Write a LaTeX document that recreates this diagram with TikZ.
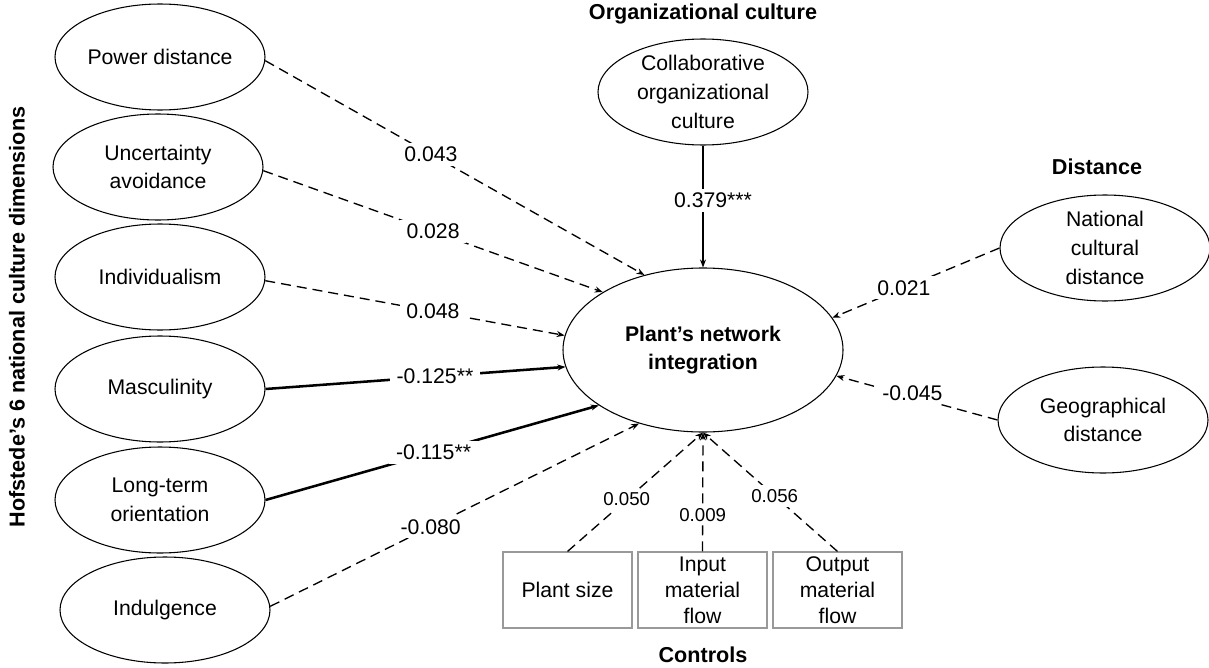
\documentclass[tikz,border=0pt]{standalone}
\usepackage{fontspec}
\setmainfont{Liberation Sans}
\usetikzlibrary{arrows.meta,shapes.geometric}
\begin{document}
\begin{tikzpicture}[x=0.75pt,y=-0.75pt,
  every node/.style={font=\fontsize{15.9}{21.5}\selectfont, align=center},
  small/.style={draw, line width=0.8pt, ellipse, inner sep=0pt, minimum width=157.5pt, minimum height=79.5pt},
  big/.style={draw, line width=0.8pt, ellipse, inner sep=0pt, minimum width=210pt, minimum height=123pt, font=\bfseries\fontsize{15.9}{21.5}\selectfont},
  ctrl/.style={draw=black!40, line width=0.8pt, rectangle, inner sep=0pt, minimum width=96.75pt, minimum height=57pt, font=\fontsize{15.9}{19.5}\selectfont},
  ttl/.style={font=\bfseries\fontsize{16.2}{19}\selectfont},
  dsh/.style={line width=1pt, dash pattern=on 7.5pt off 4.5pt, -{Stealth[length=6pt,width=4.5pt]}},
  sld/.style={line width=1.9pt, -{Stealth[length=6pt,width=4.5pt]}},
  lbl/.style={fill=white, inner xsep=5pt, inner ysep=3pt},
  slbl/.style={fill=white, inner xsep=4pt, inner ysep=3pt, font=\fontsize{14}{16}\selectfont}
]
\useasboundingbox (0,0) rectangle (1209,667);

% left ellipses
\node[small] (pd) at (160,57) {Power distance};
\node[small] (ua) at (158,167) {Uncertainty\\avoidance};
\node[small] (ind) at (160,277) {Individualism};
\node[small] (mas) at (160,389) {Masculinity};
\node[small] (lto) at (160,500) {Long-term\\orientation};
\node[small] (indu) at (165,610) {Indulgence};

% centre
\node[big] (pni) at (703,350) {Plant's network\\integration};
\node[small] (coc) at (703,92) {Collaborative\\organizational\\culture};

% right
\node[small] (ncd) at (1105,248) {National\\cultural\\distance};
\node[small] (gd) at (1103,420) {Geographical\\distance};

% controls
\node[ctrl] (ps) at (567.5,590) {Plant size};
\node[ctrl] (imf) at (702.5,590) {Input\\material\\flow};
\node[ctrl] (omf) at (837.5,590) {Output\\material\\flow};

% titles
\node[ttl] (t1) at (703,14) {Organizational culture};
\node[ttl] (t2) at (1097,167) {Distance};
\node[ttl] (t3) at (703,655) {Controls};
\node[ttl, rotate=90] (t4) at (17,317) {Hofstede’s 6 national culture dimensions};

% connectors
\draw[dsh] (pd.-2) -- (pni.128) node[lbl, pos=0.437] (l1) {0.043};
\draw[dsh] (ua.-2) -- (pni.150) node[lbl, pos=0.5] (l2) {0.028};
\draw[dsh] (ind.-2) -- (pni.174.7) node[lbl, pos=0.56] (l3) {0.048};
\draw[sld] (mas.0) -- (pni.187.8) node[lbl, pos=0.565] (l4) {-0.125**};
\draw[sld] (lto.0) -- (pni.208.8) node[lbl, pos=0.504] (l5) {-0.115**};
\draw[dsh] (indu.2) -- (pni.229.3) node[lbl, pos=0.435] (l6) {-0.080};
\draw[sld] (coc.south) -- (pni.north) node[lbl, pos=0.447, xshift=7.5pt] (l7) {0.379***};
\draw[dsh] (ncd.west) -- (pni.14) node[lbl, pos=0.572] (l8) {0.021};
\draw[dsh] (gd.west) -- (pni.-11.6) node[lbl, pos=0.528, yshift=3pt] (l9) {-0.045};
\draw[dsh] (ps.north) -- (pni.south) node[slbl, pos=0.437] (l10) {0.050};
\draw[dsh] (imf.north) -- (pni.south) node[slbl, pos=0.308] (l11) {0.009};
\draw[dsh] (omf.north) -- (pni.south) node[slbl, pos=0.467] (l12) {0.056};
\end{tikzpicture}
\end{document}
